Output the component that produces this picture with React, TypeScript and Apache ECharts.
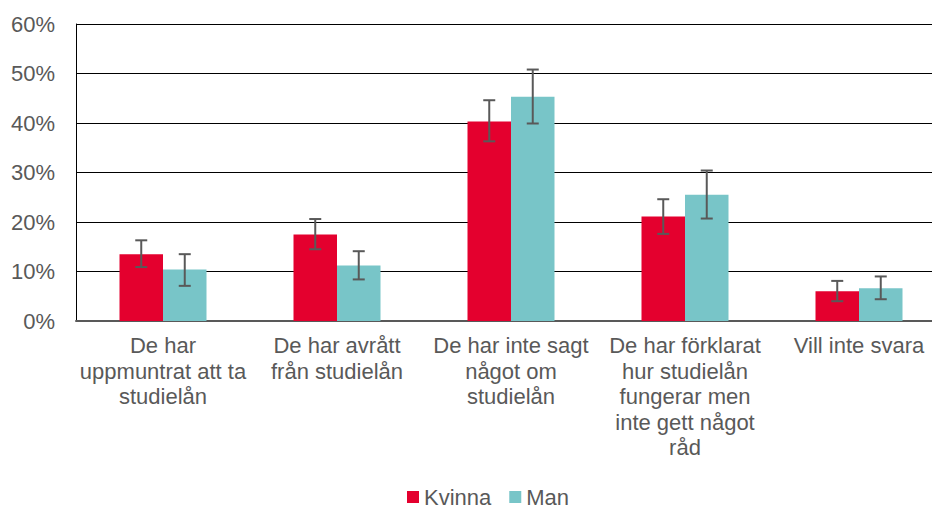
import React, { useEffect, useRef } from "react";
import * as echarts from "echarts";

const categories = [
  "De har uppmuntrat att ta studielån",
  "De har avrått från studielån",
  "De har inte sagt något om studielån",
  "De har förklarat hur studielån fungerar men inte gett något råd",
  "Vill inte svara",
];
const categoryLabels = [
  "De har\nuppmuntrat att ta\nstudielån",
  "De har avrått\nfrån studielån",
  "De har inte sagt\nnågot om\nstudielån",
  "De har förklarat\nhur studielån\nfungerar men\ninte gett något\nråd",
  "Vill inte svara",
];
const kvinna = [13.5, 17.5, 40.3, 21.1, 6.0];
const kvinnaLow = [10.9, 14.5, 36.3, 17.6, 4.0];
const kvinnaHigh = [16.3, 20.6, 44.6, 24.6, 8.1];
const man = [10.4, 11.2, 45.3, 25.5, 6.6];
const manLow = [7.1, 8.4, 39.9, 20.7, 4.4];
const manHigh = [13.5, 14.1, 50.8, 30.4, 9.0];
const yTicks = [0, 10, 20, 30, 40, 50, 60];

const FONT = '"Liberation Sans", Arial, sans-serif';
const GRAY = "#595959";

function errorSeries(name: string, low: number[], high: number[], side: number) {
  return {
    type: "custom",
    name: name + "-err",
    coordinateSystem: "cartesian2d",
    silent: true,
    z: 10,
    data: low.map((l, i) => [i, l, high[i]]),
    encode: { x: 0, y: [1, 2] },
    renderItem: (params: any, api: any) => {
      const idx = api.value(0);
      const lo = api.coord([idx, api.value(1)]);
      const hi = api.coord([idx, api.value(2)]);
      const catW = api.size([1, 0])[0];
      const x = lo[0] + side * catW * 0.125;
      const cap = 6;
      const style = { stroke: GRAY, lineWidth: 2 };
      return {
        type: "group",
        children: [
          { type: "line", shape: { x1: x, y1: lo[1], x2: x, y2: hi[1] }, style },
          { type: "line", shape: { x1: x - cap, y1: lo[1], x2: x + cap, y2: lo[1] }, style },
          { type: "line", shape: { x1: x - cap, y1: hi[1], x2: x + cap, y2: hi[1] }, style },
        ],
      };
    },
  };
}

export default function App() {
  const ref = useRef<HTMLDivElement>(null);
  useEffect(() => {
    if (!ref.current) return;
    const chart = echarts.init(ref.current, null, { renderer: "svg" });
    chart.setOption({
      animation: false,
      backgroundColor: "#ffffff",
      textStyle: { fontFamily: FONT },
      grid: { left: 76, top: 24, width: 870, height: 297 },
      legend: {
        data: ["Kvinna", "Man"],
        left: 407,
        top: 486,
        padding: 0,
        icon: "rect",
        itemWidth: 12,
        itemHeight: 12,
        itemGap: 18,
        textStyle: { fontSize: 22, lineHeight: 22, color: GRAY, fontFamily: FONT },
      },
      xAxis: {
        type: "category",
        data: categories,
        axisTick: { show: false },
        axisLine: { show: true, lineStyle: { color: GRAY, width: 2 } },
        axisLabel: {
          interval: 0,
          margin: 12,
          fontSize: 22,
          lineHeight: 25.5,
          color: GRAY,
          fontFamily: FONT,
          align: "center",
          formatter: (_v: string, i: number) => categoryLabels[i],
        },
      },
      yAxis: {
        type: "value",
        min: yTicks[0],
        max: yTicks[yTicks.length - 1],
        interval: 10,
        axisLine: { show: true, lineStyle: { color: "#000000", width: 1 } },
        axisTick: { show: false },
        splitLine: { show: true, lineStyle: { color: "#000000", width: 1 } },
        axisLabel: {
          margin: 21,
          fontSize: 22,
          color: GRAY,
          fontFamily: FONT,
          formatter: "{value}%",
        },
      },
      series: [
        {
          name: "Kvinna",
          type: "bar",
          data: kvinna,
          barGap: "0%",
          barCategoryGap: "50%",
          itemStyle: { color: "#E4002E" },
        },
        {
          name: "Man",
          type: "bar",
          data: man,
          barGap: "0%",
          barCategoryGap: "50%",
          itemStyle: { color: "#78C5C8" },
        },
        errorSeries("Kvinna", kvinnaLow, kvinnaHigh, -1),
        errorSeries("Man", manLow, manHigh, 1),
      ],
    });
    return () => chart.dispose();
  }, []);
  return (
    <div
      style={{
        position: "fixed",
        left: 0,
        top: 0,
        width: 932,
        height: 509,
        overflow: "hidden",
        background: "#ffffff",
      }}
    >
      <div ref={ref} style={{ width: 960, height: 509 }} />
    </div>
  );
}
